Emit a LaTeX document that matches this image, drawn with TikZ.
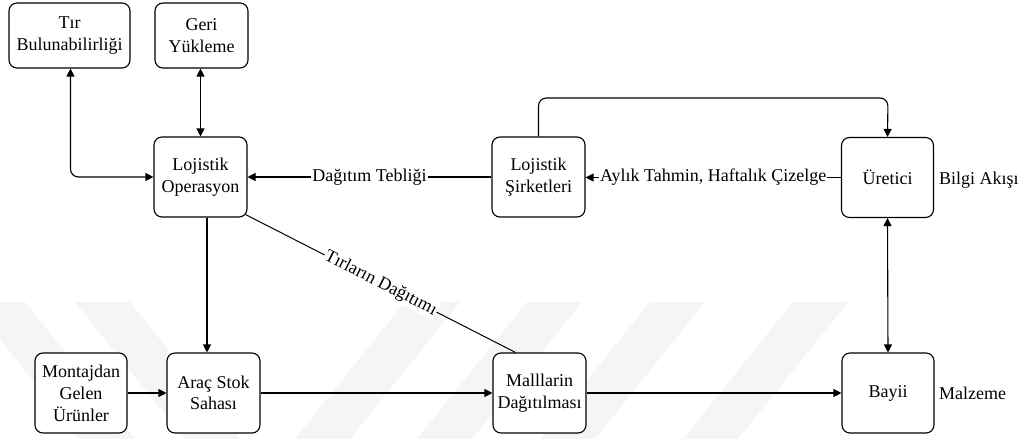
\documentclass[tikz,border=0pt]{standalone}
\usepackage{fontspec}
\setmainfont{Liberation Serif}
\usetikzlibrary{arrows.meta}
\begin{document}
\begin{tikzpicture}[x=1pt,y=-1pt,
  box/.style={draw, rounded corners=8pt, fill=white, line width=1.1pt, align=center,
    inner sep=2pt, minimum width=93pt, minimum height=80pt, font=\fontsize{18}{21.5}\selectfont},
  conn/.style={line width=1.1pt},
  tip/.tip={Triangle[length=8pt,width=8pt]},
  arr/.style={conn,-tip},
  darr/.style={conn,tip-tip},
  lbl/.style={fill=white, inner sep=1pt, font=\fontsize{18}{21}\selectfont},
  plain/.style={inner sep=1pt, font=\fontsize{18}{21}\selectfont},
  wm/.style={fill=black!4, draw=none}]
\useasboundingbox (0,0) rectangle (1021,439);
\fill[white] (0,0) rectangle (1021,439);
% watermark stripes
\begin{scope}
\clip (0,0) rectangle (1021,439);
\fill[wm] (-30,302) -- (25,302) -- (135,439) -- (80,439) -- cycle;
\fill[wm] (75,302) -- (130,302) -- (240,439) -- (185,439) -- cycle;
\foreach \a in {405,527,650,793}{
  \fill[wm] (\a,302) -- (\a+55,302) -- (\a-55,439) -- (\a-110,439) -- cycle;
}
\end{scope}
% nodes
\node[box, minimum width=121pt, minimum height=65pt] (tir) at (69.5,35.5) {Tır\\Bulunabilirliği};
\node[box, minimum height=65pt] (geri) at (201.5,35.5) {Geri\\Yükleme};
\node[box] (lo) at (200.5,177) {Lojistik\\Operasyon};
\node[box] (ls) at (538.5,177) {Lojistik\\Şirketleri};
\node[box, minimum width=92pt] (ur) at (887.5,177.5) {Üretici};
\node[box, minimum width=92pt, font=\fontsize{18}{22}\selectfont] (mont) at (81,393) {Montajdan\\Gelen\\Ürünler};
\node[box] (arac) at (213.5,393) {Araç Stok\\Sahası};
\node[box] (mall) at (539.5,393) {Malllarin\\Dağıtılması};
\node[box, minimum width=92pt] (bay) at (888,393) {Bayii};
\node[plain, anchor=west] (bilgi) at (938,180) {Bilgi Akışı};
\node[plain, anchor=west] (malz) at (938,393) {Malzeme};
% connectors
\draw[darr, rounded corners=8pt] ([xshift=1pt]tir.south) |- (lo.west);
\draw[darr] (geri.south -| lo.north) -- (lo.north);
\draw[arr] (ls.west) -- node[lbl] {Dağıtım Tebliği} (lo.east);
\draw[arr] (ur.west) -- node[lbl] {Aylık Tahmin, Haftalık Çizelge} (ur.west -| ls.east);
\coordinate (top) at (888,98);
\draw[arr, rounded corners=8pt] (ls.north) |- (top) -- (ur.north);
\draw[darr] (ur.south) -- (bay.north);
\draw[arr] ([xshift=6.5pt]lo.south) -- ([xshift=6.5pt]lo.south |- arac.north);
\draw[arr] (mont.east) -- (arac.west);
\draw[arr] (arac.east) -- (mall.west);
\draw[arr] (mall.east) -- (bay.west);
\draw[line width=1pt] ([shift={(-2,-3)}]lo.south east) -- node[lbl, sloped] {Tırların Dağıtımı} ([xshift=-24pt]mall.north);
\end{tikzpicture}
\end{document}
